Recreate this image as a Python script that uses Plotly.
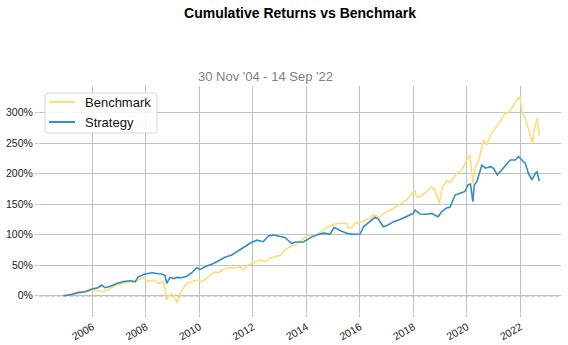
import plotly.graph_objects as go

# Cumulative return of the strategy (percent) at sampled dates
strategy_dates = [
    "2004-11-30", "2005-03-25", "2005-06-25", "2005-09-24", "2005-12-24",
    "2006-03-20", "2006-05-08", "2006-06-20", "2006-08-28", "2006-11-28",
    "2007-02-28", "2007-05-30", "2007-08-08", "2007-09-20", "2007-12-20",
    "2008-03-22", "2008-06-20", "2008-08-04", "2008-09-20", "2008-10-12",
    "2008-11-25", "2009-01-12", "2009-03-03", "2009-05-05", "2009-07-12",
    "2009-09-20", "2009-11-25", "2010-01-12", "2010-03-18", "2010-06-18",
    "2010-09-16", "2010-12-16", "2011-03-18", "2011-05-26", "2011-08-03",
    "2011-10-08", "2011-12-16", "2012-02-24", "2012-05-22", "2012-08-01",
    "2012-10-08", "2013-01-08", "2013-03-14", "2013-06-14", "2013-08-01",
    "2013-11-20", "2014-03-10", "2014-05-22", "2014-08-22", "2014-11-20",
    "2015-01-15", "2015-04-05", "2015-07-05", "2015-10-05", "2016-01-05",
    "2016-02-18", "2016-05-18", "2016-07-26", "2016-09-08", "2016-11-16",
    "2017-01-05", "2017-04-01", "2017-07-01", "2017-10-01", "2018-01-01",
    "2018-01-22", "2018-04-01", "2018-07-01", "2018-09-08", "2018-10-22",
    "2018-12-05", "2019-01-22", "2019-04-01", "2019-05-15", "2019-07-24",
    "2019-10-01", "2019-12-05", "2020-01-15", "2020-02-19", "2020-03-23",
    "2020-04-10", "2020-05-15", "2020-07-24", "2020-09-10", "2020-11-14",
    "2020-12-28", "2021-02-20", "2021-04-20", "2021-06-10", "2021-08-15",
    "2021-10-20", "2021-12-08", "2022-01-20", "2022-03-08", "2022-04-20",
    "2022-06-06", "2022-07-25", "2022-08-16", "2022-09-14",
]
strategy_values = [
    0, 2, 5, 6.5, 11,
    13, 17.5, 13, 15, 20,
    23, 24.5, 23, 31, 35.5,
    37.7, 36, 35.5, 33, 20,
    30, 28, 30, 29.5, 32,
    37.7, 46, 43, 47.5, 51.5,
    57, 63, 66.7, 72, 77.7,
    82, 87.5, 91, 88.5, 98,
    99.5, 97, 95.5, 85.5, 88,
    88, 96, 99.5, 102.5, 101,
    112, 107, 102.5, 100.5, 101,
    113, 121, 128.5, 126, 113,
    115, 121, 125, 129.5, 135,
    140.5, 134, 133.5, 135, 132,
    129.5, 137.7, 144, 145, 165,
    168, 171, 181.5, 183, 154,
    181.5, 187, 214, 209, 211.5,
    209, 198, 206, 214, 222.5,
    222.5, 228, 222.5, 217, 200.6,
    189.7, 200.6, 203, 188,
]

# Cumulative return of the benchmark (percent) at sampled dates
benchmark_dates = [
    "2004-11-30", "2005-02-16", "2005-06-25", "2005-11-05", "2006-02-05",
    "2006-05-30", "2006-08-28", "2006-12-20", "2007-03-22", "2007-06-20",
    "2007-08-08", "2007-10-12", "2007-11-28", "2008-02-03", "2008-04-12",
    "2008-06-20", "2008-08-25", "2008-09-20", "2008-10-12", "2008-10-28",
    "2008-12-20", "2009-03-01", "2009-05-05", "2009-07-12", "2009-09-20",
    "2009-11-25", "2010-02-03", "2010-04-12", "2010-06-18", "2010-08-03",
    "2010-09-16", "2010-11-03", "2011-01-30", "2011-05-01", "2011-07-08",
    "2011-08-22", "2011-10-30", "2012-01-30", "2012-04-08", "2012-06-18",
    "2012-08-22", "2012-10-30", "2013-01-08", "2013-03-14", "2013-05-22",
    "2013-07-26", "2013-10-30", "2014-01-26", "2014-04-05", "2014-07-30",
    "2014-10-05", "2015-01-05", "2015-04-05", "2015-07-05", "2015-07-26",
    "2015-09-12", "2015-10-26", "2016-01-26", "2016-03-10", "2016-05-18",
    "2016-07-01", "2016-10-01", "2017-01-05", "2017-04-01", "2017-07-01",
    "2017-10-01", "2018-01-22", "2018-02-10", "2018-04-01", "2018-07-01",
    "2018-09-08", "2018-10-22", "2018-12-20", "2019-02-01", "2019-04-01",
    "2019-05-15", "2019-08-14", "2019-10-22", "2019-12-20", "2020-02-10",
    "2020-03-23", "2020-04-20", "2020-06-06", "2020-08-14", "2020-09-28",
    "2020-11-14", "2021-01-20", "2021-03-28", "2021-06-06", "2021-07-20",
    "2021-09-05", "2021-10-20", "2021-12-28", "2022-01-20", "2022-03-08",
    "2022-04-20", "2022-06-16", "2022-07-05", "2022-08-16", "2022-09-14",
]
benchmark_values = [
    0, 2, 6, 7, 9.5,
    6.5, 12, 18.5, 21, 23,
    22, 27, 30, 23, 26,
    20, 23, 9, -7, -1.5,
    3, -11, 9, 20, 23,
    25.7, 23, 28.5, 35.5, 39,
    37, 42, 46, 45, 47.5,
    42, 50, 54.7, 58.5, 56,
    62, 64, 66, 75, 80,
    83, 91, 99.5, 98, 105,
    111.5, 117, 118.7, 118.7, 110.5,
    112, 118.7, 121, 124, 127,
    132, 129.5, 137.7, 143, 150,
    157, 173, 162, 162, 170.5,
    178.7, 173, 151.5, 178.7, 188,
    186, 200, 206, 219.7, 230.6,
    184, 209, 219.7, 255, 247,
    263, 274, 285, 299, 300,
    307, 318, 326, 301.6, 290.8,
    274, 250, 269, 290.8, 263,
]

y_ticks = [0, 50, 100, 150, 200, 250, 300]
y_tick_labels = [f"{v}%" for v in y_ticks]
subtitle = "30 Nov '04 - 14 Sep '22"
series_names = ["Benchmark", "Strategy"]
series_colors = ["#fedd78", "#348dc1"]

FONT = "Liberation Sans, Arial, sans-serif"
GRID = "#c0c0c0"

# plot area in pixels inside the 568x345 canvas
W, H = 568, 345
PL, PR, PT, PB = 39, 561, 86, 313
PW, PH = PR - PL, PB - PT


def px_x(x):
    return (x - PL) / PW


def px_y(y):
    return (PB - y) / PH


fig = go.Figure()
for name, color, xs, ys in [
    (series_names[0], series_colors[0], benchmark_dates, benchmark_values),
    (series_names[1], series_colors[1], strategy_dates, strategy_values),
]:
    fig.add_trace(go.Scatter(x=xs, y=ys, name=name, mode="lines",
                             line=dict(color=color, width=1.6), showlegend=False))

shapes = [
    # dashed zero line across the whole plot
    dict(type="line", xref="paper", x0=0, x1=1, yref="y", y0=0, y1=0,
         line=dict(color="black", width=1, dash="4px,2px"), layer="between"),
]

# legend box with rounded corners, upper left of the plot
lx0, lx1, ly0, ly1, r = px_x(45), px_x(157), px_y(133), px_y(93), 3
rx, ry = r / PW, r / PH
path = (f"M {lx0 + rx},{ly0} L {lx1 - rx},{ly0} Q {lx1},{ly0} {lx1},{ly0 + ry} "
        f"L {lx1},{ly1 - ry} Q {lx1},{ly1} {lx1 - rx},{ly1} "
        f"L {lx0 + rx},{ly1} Q {lx0},{ly1} {lx0},{ly1 - ry} "
        f"L {lx0},{ly0 + ry} Q {lx0},{ly0} {lx0 + rx},{ly0} Z")
shapes.append(dict(type="path", xref="paper", yref="paper", path=path,
                   fillcolor="rgba(255,255,255,0.85)",
                   line=dict(color="#d6d6d6", width=1), layer="above"))

annotations = [dict(text=subtitle, xref="paper", yref="paper",
                    x=px_x(265), y=px_y(76.5), xanchor="center", yanchor="middle",
                    showarrow=False, font=dict(family=FONT, size=13, color="#808080"))]

for i, (name, color) in enumerate(zip(series_names, series_colors)):
    yc = 102 + 20 * i
    shapes.append(dict(type="line", xref="paper", yref="paper",
                       x0=px_x(49), x1=px_x(75), y0=px_y(yc), y1=px_y(yc),
                       line=dict(color=color, width=2), layer="above"))
    annotations.append(dict(text=name, xref="paper", yref="paper",
                            x=px_x(83), y=px_y(yc + 0.5), xanchor="left",
                            yanchor="middle", showarrow=False,
                            font=dict(family=FONT, size=13, color="#111111")))

fig.update_layout(
    width=W, height=H,
    margin=dict(l=PL, r=W - PR, t=PT, b=H - PB),
    paper_bgcolor="white", plot_bgcolor="white",
    font=dict(family=FONT, color="#222222", size=10.5),
    title=dict(text="Cumulative Returns vs Benchmark", x=0.5, xanchor="center",
               xref="paper", y=1 - 13 / H, yref="container", yanchor="middle",
               font=dict(family=FONT, size=14, weight="bold", color="black")),
    showlegend=False,
    shapes=shapes,
    annotations=annotations,
)

fig.update_xaxes(
    type="date", range=["2004-01-03", "2023-07-09"], automargin=False,
    tick0="2006-01-01", dtick="M24", tickformat="%Y", tickangle=-30,
    showgrid=True, gridcolor=GRID, gridwidth=1,
    ticks="outside", ticklen=3, tickcolor=GRID,
    showline=False, zeroline=False,
    tickfont=dict(family=FONT, size=10.5, color="#222222"),
)
fig.update_yaxes(
    range=[-28.4, 343.8], automargin=False,
    tickmode="array", tickvals=y_ticks, ticktext=y_tick_labels,
    showgrid=True, gridcolor=GRID, gridwidth=1,
    ticks="outside", ticklen=3, tickcolor=GRID,
    showline=False, zeroline=False,
    tickfont=dict(family=FONT, size=10.5, color="#222222"),
)

fig.write_html("out.html")
